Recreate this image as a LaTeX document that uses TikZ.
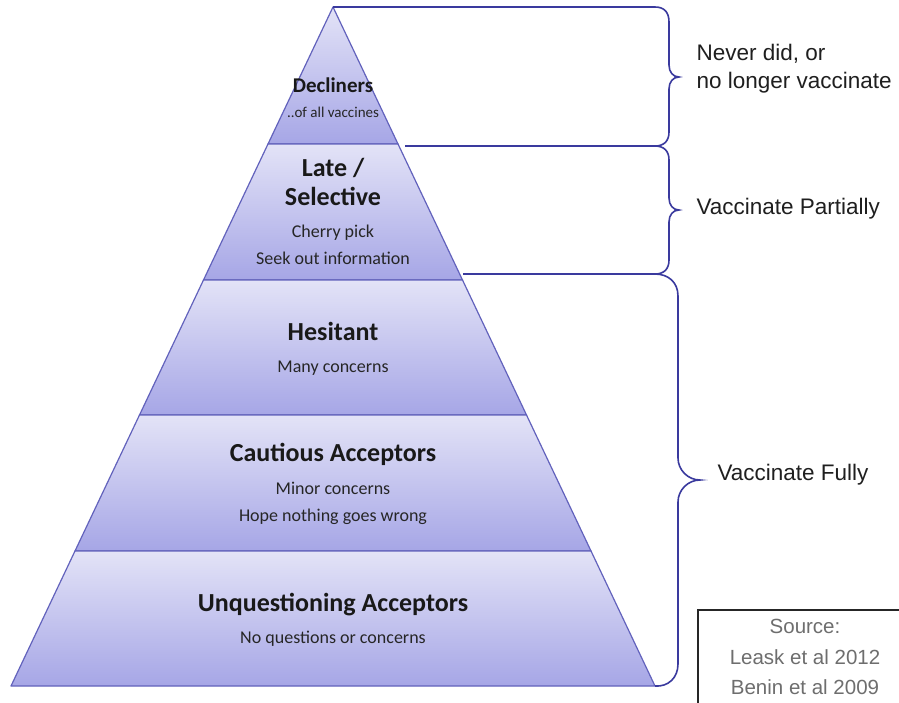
\documentclass[tikz,border=0pt]{standalone}
\usepackage{fontspec}
\setmainfont{Carlito}
\newfontfamily\arialfont{Liberation Sans}
\usetikzlibrary{positioning}
\definecolor{layertop}{HTML}{E3E3F7}
\definecolor{layerbot}{HTML}{A6A6E6}
\definecolor{edge}{HTML}{6262BC}
\definecolor{bracec}{HTML}{3A3A9E}
\definecolor{srcgray}{HTML}{6E6E6E}

\tikzset{
	layer/.style={top color=layertop, bottom color=layerbot, draw=edge, line width=1.2pt, line join=round},
	title/.style={font=\bfseries\fontsize{26}{29}\selectfont, text=black!90, align=center},
	note/.style={font=\fontsize{18}{27}\selectfont, text=black!85, align=center},
	bracket/.style={draw=bracec, line width=1.6pt},
	side/.style={font=\arialfont\fontsize{22.5}{28}\selectfont, anchor=west, align=left, text=black!88},
	source/.style={font=\arialfont\fontsize{20.5}{30.5}\selectfont, text=srcgray, align=center}
}

\begin{document}
\begin{tikzpicture}[x=1pt,y=-1pt]
		\useasboundingbox (0,0) rectangle (899,702);
		\fill [white] (0,0) rectangle (899,702);
		% pyramid corners
		\coordinate (apex) at (333,7);
		\coordinate (l1) at (268,144);   \coordinate (r1) at (398,144);
		\coordinate (l2) at (203.5,280); \coordinate (r2) at (462.5,280);
		\coordinate (l3) at (139.5,415); \coordinate (r3) at (526.5,415);
		\coordinate (l4) at (75,551);    \coordinate (r4) at (591,551);
		\coordinate (l5) at (11,686);    \coordinate (r5) at (655,686);
		%
		\draw [layer] (apex) -- (r1) -- (l1) -- cycle;
		\draw [layer] (l1) -- (r1) -- (r2) -- (l2) -- cycle;
		\draw [layer] (l2) -- (r2) -- (r3) -- (l3) -- cycle;
		\draw [layer] (l3) -- (r3) -- (r4) -- (l4) -- cycle;
		\draw [layer] (l4) -- (r4) -- (r5) -- (l5) -- cycle;
		%
		\node [title, font=\bfseries\fontsize{21}{24}\selectfont] (decl) at (333,85) {Decliners};
		\node [note, font=\fontsize{15}{18}\selectfont] (declnote) at (333,112) {..of all vaccines};
		\node [title] (late) at (333,182) {Late /\\Selective};
		\node [note] (latenote) at (333,245) {Cherry pick\\Seek out information};
		\node [title] (hes) at (333,331) {Hesitant};
		\node [note] (hesnote) at (333,368) {Many concerns};
		\node [title] (caut) at (333,454) {Cautious Acceptors};
		\node [note] (cautnote) at (333,503) {Minor concerns\\Hope nothing goes wrong};
		\node [title] (unq) at (333,605) {Unquestioning Acceptors};
		\node [note] (unqnote) at (333,639) {No questions or concerns};
		%
		% braces
		\coordinate (b1end) at (405,146);
		\coordinate (b2end) at (463,274);
		\draw [bracket] (apex) -- (655,7) .. controls (664,7) and (669,12) .. (669,22) -- (669,65) .. controls (669,72) and (673,77) .. (679,77) .. controls (673,77) and (669,82) .. (669,89) -- (669,132) .. controls (669,141) and (664,146) .. (655,146) -- (b1end);
		\draw [bracket] (655,146) .. controls (664,146) and (669,151) .. (669,160) -- (669,198) .. controls (669,205) and (673,210) .. (679,210) .. controls (673,210) and (669,215) .. (669,222) -- (669,260) .. controls (669,269) and (664,274) .. (655,274) -- (b2end);
		\draw [bracket] (655,274) .. controls (668,274) and (678,282) .. (678,296) -- (678,458) .. controls (678,470) and (688,480) .. (700,480) .. controls (688,480) and (678,490) .. (678,502) -- (678,664) .. controls (678,678) and (668,687) .. (r5);
		%
		\node [side] (never) at (693,69) {Never did, or\\no longer vaccinate};
		\node [side] (partial) at (693,209) {Vaccinate Partially};
		\node [side] (fully) at (714,475) {Vaccinate Fully};
		%
		\draw [black!85, line width=1.5pt] (698,610) rectangle (912,715);
		\node [source] (src) at (805,657) {Source:\\Leask et al 2012\\Benin et al 2009};
	\end{tikzpicture}
\end{document}
